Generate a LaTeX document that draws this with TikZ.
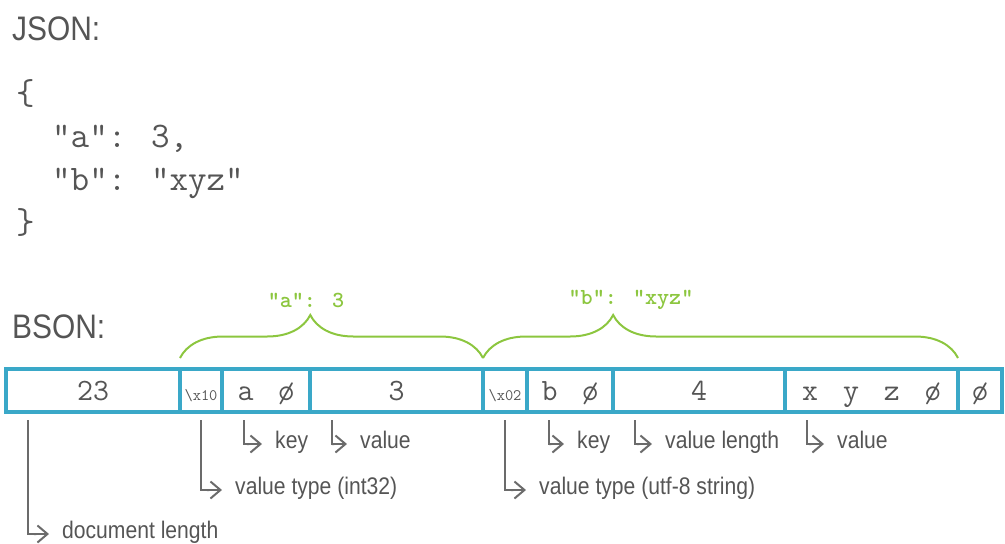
\documentclass[tikz,border=0pt]{standalone}
\usepackage{fontspec}
\newfontfamily\notefont{Liberation Sans}[FakeStretch=0.88]
\usetikzlibrary{positioning, arrows.meta, decorations.pathreplacing}
\definecolor{ink}{HTML}{555555}
\definecolor{cellblue}{HTML}{3AA8C8}
\definecolor{bracegreen}{HTML}{8CC63F}
\definecolor{pointgray}{HTML}{6B6B6B}
\newcommand{\gap}{\hspace{25pt}}

\begin{document}
\begin{tikzpicture}[x=1pt, y=-1pt,
		heading/.style={anchor=base west, inner sep=0, text=ink, font=\notefont\fontsize{34}{34}\selectfont},
		jsonline/.style={anchor=base west, inner sep=0, text=ink, font=\ttfamily\fontsize{36}{36}\selectfont},
		cell/.style={draw=cellblue, line width=3.5pt, outer sep=0, inner sep=0, minimum height=43pt,
			text height=19pt, text depth=0pt, text=ink, font=\ttfamily\fontsize{31}{31}\selectfont},
		typecell/.style={cell, font=\ttfamily\fontsize{16}{16}\selectfont},
		pair/.style={draw=bracegreen, line width=2pt, decorate, decoration={brace, amplitude=43pt, aspect=#1}},
		pairlabel/.style={text=bracegreen, inner sep=0, font=\ttfamily\bfseries\fontsize{23}{23}\selectfont},
		notelabel/.style={anchor=base west, inner xsep=11pt, inner ysep=0, text height=8pt, text depth=0pt,
			text=ink, font=\notefont\fontsize{24}{24}\selectfont},
		pointer/.style={draw=pointgray, line width=2pt, -{Butt Cap[] Straight Barb[length=10pt, width=17pt, sep=2pt]}}]
	\useasboundingbox (0,0) rectangle (1005,544);

	\node[heading] (json) at (12,40) {JSON:};
	\node[jsonline] (open)  at (16,104) {\{};
	\node[jsonline] (linea) at (52,147) {"a": 3,};
	\node[jsonline] (lineb) at (52,190) {"b": "xyz"};
	\node[jsonline] (close) at (16,233) {\}};

	\node[heading] (bson) at (12,338) {BSON:};
	\node[cell, minimum width=174pt, anchor=west] (len) at (6,390.5) {23};
	\node[typecell, minimum width=42pt, right=0pt of len] (ta) {\textbackslash x10};
	\node[cell, minimum width=88pt, right=0pt of ta] (ka) {a\gap ø};
	\node[cell, minimum width=173pt, right=0pt of ka] (va) {3};
	\node[typecell, minimum width=44pt, right=0pt of va] (tb) {\textbackslash x02};
	\node[cell, minimum width=86pt, right=0pt of tb] (kb) {b\gap ø};
	\node[cell, minimum width=172pt, right=0pt of kb] (lenb) {4};
	\node[cell, minimum width=173pt, right=0pt of lenb] (vb) {x\gap y\gap z\gap ø};
	\node[cell, minimum width=44pt, right=0pt of vb] (end) {ø};

	\draw[pair=0.43] ([yshift=11pt]ta.north west) -- ([yshift=11pt]va.north east);
	\draw[pair=0.274] ([yshift=11pt]tb.north west) -- ([yshift=11pt]vb.north east);
	\node[pairlabel] (pa) at (306,300) {"a": 3};
	\node[pairlabel] (pb) at (631,300) {"b": "xyz"};

	\node[notelabel] (doclen) at (51,538) {document length};
	\node[notelabel] (typea)  at (224,494) {value type (int32)};
	\node[notelabel] (keya)   at (264,448) {key};
	\node[notelabel] (vala)   at (349,448) {value};
	\node[notelabel] (typeb)  at (528,494) {value type (utf-8 string)};
	\node[notelabel] (keyb)   at (566,448) {key};
	\node[notelabel] (lenl)   at (654,448) {value length};
	\node[notelabel] (valb)   at (826,448) {value};

	\draw[pointer] ([shift={(22pt,-8pt)}]len.south west) |- (doclen.west);
	\draw[pointer] ([yshift=-8pt]ta.south) |- (typea.west);
	\draw[pointer] ([shift={(22pt,-8pt)}]ka.south west) |- (keya.west);
	\draw[pointer] ([shift={(22pt,-8pt)}]va.south west) |- (vala.west);
	\draw[pointer] ([yshift=-8pt]tb.south) |- (typeb.west);
	\draw[pointer] ([shift={(22pt,-8pt)}]kb.south west) |- (keyb.west);
	\draw[pointer] ([shift={(22pt,-8pt)}]lenb.south west) |- (lenl.west);
	\draw[pointer] ([shift={(22pt,-8pt)}]vb.south west) |- (valb.west);
\end{tikzpicture}
\end{document}
